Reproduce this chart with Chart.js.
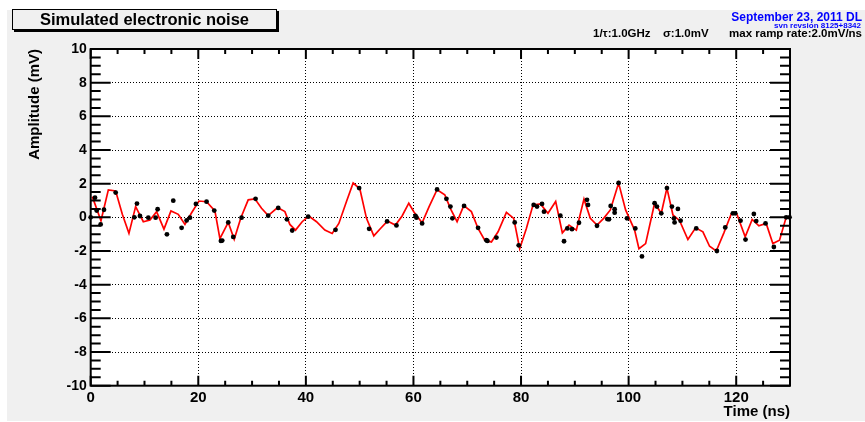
<!DOCTYPE html>
<html><head><meta charset="utf-8">
<style>html,body{margin:0;padding:0;background:#fff;} canvas{display:block;}</style>
<script src="https://cdn.jsdelivr.net/npm/chart.js@4.4.1/dist/chart.umd.min.js"></script>
</head><body>
<canvas id="c" width="865" height="422"></canvas>
<script>
const chartTitle = 'Simulated electronic noise';
const dateText = 'September 23, 2011 DL';
const revText = 'svn revsion 8125+8342';
const paramTexts = ['1/τ:1.0GHz', 'σ:1.0mV', 'max ramp rate:2.0mV/ns'];
const xTitle = 'Time (ns)';
const yTitle = 'Amplitude (mV)';
const xTicks = [0, 20, 40, 60, 80, 100, 120];
const yTicks = [-10, -8, -6, -4, -2, 0, 2, 4, 6, 8, 10];
const xMinorStep = 5;
const yMinorStep = 0.5;
const xRange = [0, 130];
const yRange = [-10, 10];

const redTime = [0.30, 1.91, 3.28, 4.64, 5.88, 7.11, 8.35, 9.78, 11.02, 12.25, 13.62, 14.92, 16.28, 17.52, 18.76, 20.12, 21.54, 23.09, 24.02, 25.57, 26.68, 27.92, 29.28, 30.52, 31.76, 33.0, 34.73, 36.1, 37.02, 38.08, 39.31, 40.55, 41.98, 43.53, 44.89, 46.13, 47.55, 48.79, 50.03, 51.27, 52.63, 53.87, 55.17, 56.65, 57.89, 59.13, 60.12, 61.61, 62.91, 64.39, 65.82, 66.9, 68.11, 69.35, 70.77, 72.01, 73.25, 74.49, 75.73, 77.28, 78.64, 79.75, 80.99, 82.23, 83.6, 85.01, 86.44, 87.68, 88.92, 90.28, 91.70, 92.88, 94.12, 95.36, 96.6, 98.14, 99.44, 101.11, 101.92, 103.16, 104.83, 106.07, 107.12, 108.24, 109.48, 111.02, 112.45, 113.81, 115.05, 116.29, 117.71, 119.07, 120.12, 121.67, 122.97, 124.21, 125.57, 126.81, 128.05, 129.29, 129.91];
const redValues = [1.23, -0.2, 1.63, 1.57, 0.18, -0.95, 0.64, -0.26, -0.16, 0.34, -0.70, 0.38, 0.18, -0.42, 0.27, 0.97, 0.93, 0.38, -1.26, -0.30, -1.30, -0.02, 1.04, 1.10, 0.54, 0.10, 0.58, 0.34, -0.42, -0.76, -0.26, 0.08, -0.26, -0.76, -0.96, -0.36, 0.94, 2.04, 1.70, -0.06, -1.10, -0.66, -0.22, -0.46, 0.08, 0.84, 0.30, -0.32, 0.64, 1.64, 1.34, 0.5, -0.26, 0.70, 0.34, -0.66, -1.36, -1.46, -0.86, 0.30, -0.06, -1.86, -0.66, 0.74, 0.8, 0.24, 0.94, -0.92, -0.46, -0.76, 1.08, -0.06, -0.46, -0.06, 0.44, 2.04, 0.44, -0.76, -1.86, -1.56, 0.84, 0.24, 1.74, 0.14, -0.20, -1.32, -0.62, -0.86, -1.72, -2.00, -0.92, 0.2, 0.2, -1.16, -0.12, -0.50, -0.36, -1.56, -1.36, 0.0, 0.0];

const dotTime = [0, 0.80, 1.11, 1.85, 2.47, 4.64, 8.11, 8.60, 9.16, 10.71, 12.07, 12.44, 14.17, 15.35, 16.9, 17.83, 18.45, 19.56, 21.54, 22.97, 24.21, 24.45, 25.57, 26.5, 28.05, 30.65, 33.0, 34.86, 36.47, 37.46, 40.43, 45.51, 49.9, 51.76, 55.1, 56.84, 60.37, 60.56, 61.61, 64.39, 66.13, 66.87, 67.24, 69.41, 72.01, 73.56, 73.75, 75.42, 78.82, 79.57, 82.35, 82.97, 83.9, 84.27, 87.31, 87.99, 88.61, 89.47, 90.77, 92.26, 92.45, 94.12, 96.04, 96.35, 96.66, 97.4, 97.4, 98.14, 99.69, 101.24, 102.48, 104.83, 105.26, 106.07, 107.12, 108.05, 108.42, 108.54, 109.16, 109.66, 112.57, 116.41, 117.96, 119.38, 119.81, 120.8, 121.73, 123.28, 123.72, 125.45, 127.0, 129.29, 129.91];
const dotValues = [0, 1.17, 0.40, -0.42, 0.45, 1.47, 0.0, 0.82, 0.08, -0.02, -0.02, 0.48, -1.01, 0.99, -0.62, -0.18, -0.02, 0.80, 0.93, 0.40, -1.40, -1.38, -0.30, -1.16, -0.02, 1.10, 0.10, 0.56, -0.12, -0.78, 0.04, -0.74, 1.74, -0.68, -0.24, -0.48, 0.08, -0.02, -0.36, 1.66, 1.10, 0.64, -0.06, 0.68, -0.62, -1.36, -1.40, -1.20, -0.30, -1.66, 0.74, 0.64, 0.80, 0.34, 0.10, -1.42, -0.66, -0.70, -0.32, 1.04, 0.74, -0.50, -0.10, -0.12, 0.68, 0.48, 0.28, 2.04, -0.06, -0.66, -2.32, 0.84, 0.64, 0.24, 1.74, 0.64, -0.06, -0.30, 0.50, -0.20, -0.66, -2.0, -0.60, 0.24, 0.24, -0.20, -1.32, 0.20, -0.22, -0.36, -1.76, 0.0, 0.0];

const FONT = '"Liberation Sans", Arial, Helvetica, sans-serif';

const rootPlugin = {
  id: 'rootStyle',
  beforeDraw(chart) {
    const {ctx, chartArea: a, width, height} = chart;
    ctx.save();
    ctx.fillStyle = '#ffffff';
    ctx.fillRect(0, 0, width, height);
    ctx.fillStyle = '#f0f0f0';
    ctx.fillRect(7, 10, width - 7, height - 11);
    ctx.fillStyle = '#ffffff';
    ctx.fillRect(a.left, a.top, a.right - a.left, a.bottom - a.top);
    ctx.restore();
  },
  afterDatasetsDraw(chart) {
    const {ctx, chartArea: a} = chart;
    const xs = chart.scales.x, ys = chart.scales.y;
    ctx.save();
    ctx.strokeStyle = '#000';
    ctx.lineWidth = 2;
    ctx.beginPath();
    const nx = Math.round((xRange[1] - xRange[0]) / xMinorStep);
    for (let i = 0; i <= nx; i++) {
      const v = xRange[0] + i * xMinorStep;
      const px = xs.getPixelForValue(v);
      const major = xTicks.some(t => Math.abs(t - v) < 1e-9);
      const L = major ? 10 : 5;
      ctx.moveTo(px, a.bottom); ctx.lineTo(px, a.bottom - L);
      ctx.moveTo(px, a.top); ctx.lineTo(px, a.top + L);
    }
    const ny = Math.round((yRange[1] - yRange[0]) / yMinorStep);
    for (let i = 0; i <= ny; i++) {
      const v = yRange[0] + i * yMinorStep;
      const py = ys.getPixelForValue(v);
      const major = yTicks.some(t => Math.abs(t - v) < 1e-9);
      const L = major ? 20 : 10;
      ctx.moveTo(a.left, py); ctx.lineTo(a.left + L, py);
      ctx.moveTo(a.right, py); ctx.lineTo(a.right - L, py);
    }
    ctx.stroke();
    ctx.strokeRect(a.left, a.top, a.right - a.left, a.bottom - a.top);
    ctx.restore();
  },
  afterDraw(chart) {
    const {ctx} = chart;
    ctx.save();
    // title box
    ctx.fillStyle = '#f0f0f0';
    ctx.fillRect(12.5, 9.5, 264, 20);
    ctx.strokeStyle = '#000';
    ctx.lineWidth = 1;
    ctx.strokeRect(12.5, 9.5, 264, 20);
    ctx.fillStyle = '#000';
    ctx.fillRect(277, 11, 2, 21);
    ctx.fillRect(14, 30, 265, 2);
    ctx.font = `bold 16.5px ${FONT}`;
    ctx.textAlign = 'center';
    ctx.textBaseline = 'alphabetic';
    ctx.fillText(chartTitle, 144.5, 25);
    // top-right labels
    ctx.fillStyle = '#0000ff';
    ctx.textAlign = 'right';
    ctx.font = `bold 12px ${FONT}`;
    ctx.fillText(dateText, 862, 20.5, 131);
    ctx.font = `bold 8px ${FONT}`;
    ctx.fillText(revText, 861, 28, 89);
    ctx.fillStyle = '#000';
    ctx.font = `bold 11.5px ${FONT}`;
    ctx.textAlign = 'left';
    ctx.fillText(paramTexts[0], 593, 37, 59);
    ctx.fillText(paramTexts[1], 663, 37, 49);
    ctx.textAlign = 'right';
    ctx.fillText(paramTexts[2], 862, 37, 139);
    ctx.restore();
  }
};

new Chart(document.getElementById('c'), {
  type: 'scatter',
  data: {
    datasets: [
      {
        label: 'samples',
        data: dotTime.map((t, i) => ({x: t, y: dotValues[i]})),
        showLine: false,
        pointRadius: 2.4,
        pointHoverRadius: 2.4,
        pointBackgroundColor: '#000',
        pointBorderColor: '#000',
        pointBorderWidth: 0,
        borderWidth: 0,
        clip: 6,
        order: 0
      },
      {
        label: 'noise',
        data: redTime.map((t, i) => ({x: t, y: redValues[i]})),
        showLine: true,
        borderColor: '#ff0000',
        backgroundColor: '#ff0000',
        borderWidth: 1.7,
        pointRadius: 0,
        pointHoverRadius: 0,
        tension: 0,
        fill: false,
        order: 1
      }
    ]
  },
  options: {
    responsive: false,
    animation: false,
    devicePixelRatio: 1,
    events: [],
    layout: {padding: {top: 49, right: 75, bottom: 0, left: 0}},
    plugins: {legend: {display: false}, tooltip: {enabled: false}, title: {display: false}},
    scales: {
      x: {
        type: 'linear',
        min: xRange[0],
        max: xRange[1],
        position: 'bottom',
        afterBuildTicks: s => { s.ticks = xTicks.map(v => ({value: v})); },
        afterFit: s => { s.height = 36.3; },
        ticks: {color: '#000', font: {family: FONT, size: 15, weight: 'bold'}, padding: 3, maxRotation: 0, autoSkip: false},
        grid: {color: '#000', lineWidth: 1, drawTicks: false},
        border: {display: false, dash: [1, 2]},
        title: {display: true, text: xTitle, align: 'end', color: '#000', font: {family: FONT, size: 15, weight: 'bold'}, padding: {top: 0, bottom: 1}}
      },
      y: {
        type: 'linear',
        min: yRange[0],
        max: yRange[1],
        position: 'left',
        afterBuildTicks: s => { s.ticks = yTicks.map(v => ({value: v})); },
        afterFit: s => { s.width = 90.7; },
        ticks: {color: '#000', font: {family: FONT, size: 14, weight: 'bold'}, padding: 4, autoSkip: false},
        grid: {color: '#000', lineWidth: 1, drawTicks: false},
        border: {display: false, dash: [1, 2]},
        title: {display: true, text: yTitle, align: 'end', color: '#000', font: {family: FONT, size: 15, weight: 'bold'}, padding: {top: 26, bottom: 0}}
      }
    }
  },
  plugins: [rootPlugin]
});
</script>
</body></html>
